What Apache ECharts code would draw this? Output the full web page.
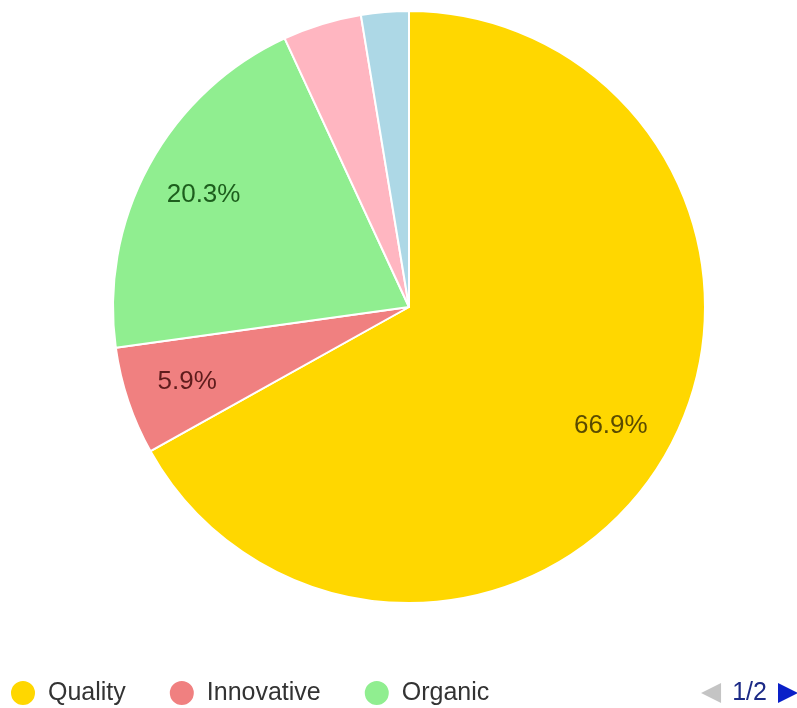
<!DOCTYPE html>
<html>
<head>
<meta charset="utf-8">
<script src="https://cdn.jsdelivr.net/npm/echarts@6/dist/echarts.min.js"></script>
<style>
  html, body { margin: 0; padding: 0; background: #ffffff; }
  #chart { width: 797px; height: 708px; }
</style>
</head>
<body>
<div id="chart"></div>
<script>
// Share of each product attribute (percent)
const categories = ['Quality', 'Innovative', 'Organic', 'Sustainability', 'Price'];
const shares = [66.9, 5.9, 20.3, 4.3, 2.6];
const sliceColors = ['#FFD700', '#F08080', '#90EE90', '#FFB6C1', '#ADD8E6'];
const labelColors = ['#5a4b00', '#5e1c1c', '#1d5e1d', '#6b3a44', '#2f4f5a'];
const labelShown = [true, true, true, false, false];

const center = [409, 307];
const outerRadius = 296;

const pieData = categories.map((name, i) => ({
  name: name,
  value: shares[i],
  itemStyle: { color: sliceColors[i] }
}));

// Transparent ring carrying the percentage labels further out than the pie midpoint
const labelData = categories.map((name, i) => ({
  name: name,
  value: shares[i],
  itemStyle: { color: 'rgba(0,0,0,0)', borderWidth: 0 },
  label: { show: labelShown[i], color: labelColors[i] }
}));

const chart = echarts.init(document.getElementById('chart'), null, { renderer: 'canvas' });
chart.setOption({
  animation: false,
  backgroundColor: '#ffffff',
  color: sliceColors,
  legend: {
    type: 'scroll',
    orient: 'horizontal',
    left: 9,
    top: 679,
    width: 789,
    padding: 0,
    itemWidth: 40,
    itemHeight: 26,
    itemGap: 42,
    icon: 'circle',
    data: categories,
    textStyle: { fontFamily: 'Liberation Sans, Arial, sans-serif', fontSize: 25, color: '#333333' },
    pageButtonGap: 181,
    pageButtonItemGap: 0,
    pageIconSize: [20, 22],
    pageIcons: {
      horizontal: ['path://M0,10L20,0L20,20z', 'path://M0,0L20,10L0,20z']
    },
    pageIconColor: '#0a20c8',
    pageIconInactiveColor: '#c4c4c4',
    pageTextStyle: { fontFamily: 'Liberation Sans, Arial, sans-serif', fontSize: 25, color: '#1c2a86' }
  },
  series: [
    {
      type: 'pie',
      center: center,
      radius: [0, outerRadius],
      startAngle: 90,
      clockwise: true,
      data: pieData,
      label: { show: false },
      labelLine: { show: false },
      itemStyle: { borderColor: '#ffffff', borderWidth: 2 },
      emphasis: { disabled: true }
    },
    {
      type: 'pie',
      center: center,
      radius: [166, outerRadius],
      startAngle: 90,
      clockwise: true,
      silent: true,
      percentPrecision: 1,
      data: labelData,
      label: {
        show: true,
        position: 'inside',
        formatter: '{d}%',
        fontFamily: 'Liberation Sans, Arial, sans-serif',
        fontSize: 26
      },
      labelLine: { show: false },
      emphasis: { disabled: true }
    }
  ]
});
</script>
</body>
</html>
